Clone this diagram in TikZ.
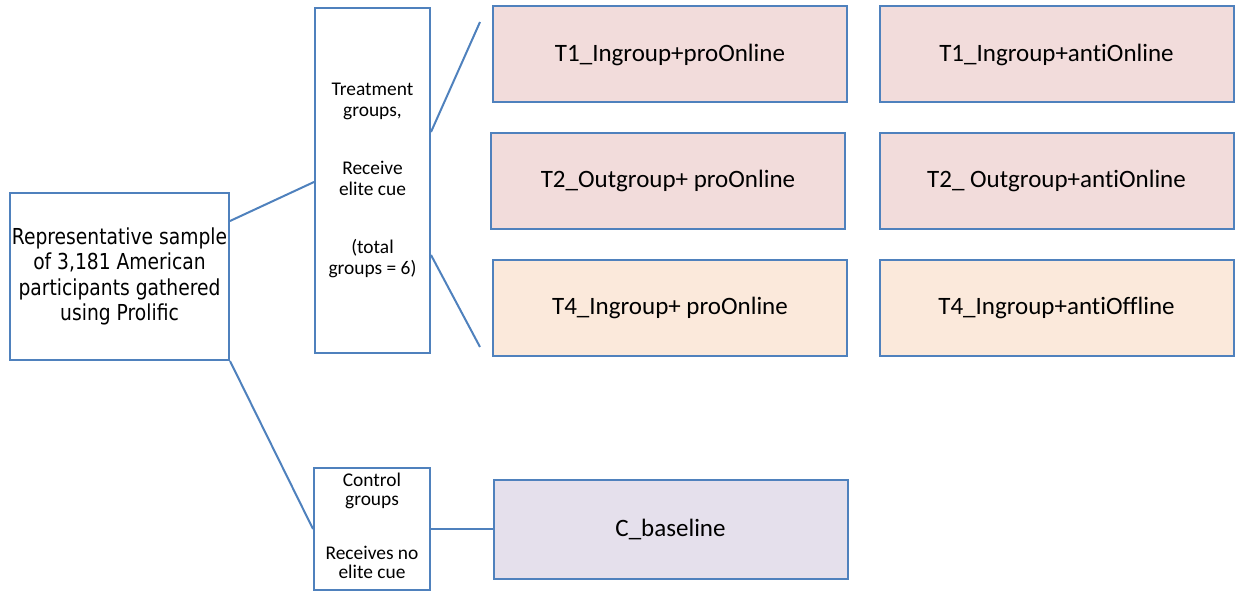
\documentclass[tikz,border=0pt]{standalone}
\usepackage{fontspec}
\setmainfont{Carlito}[Ligatures={NoCommon}]
\newfontfamily\repfont[FakeStretch=0.85]{DejaVu Sans}
\definecolor{edge}{HTML}{4F81BD}
\definecolor{pinkfill}{HTML}{F2DCDB}
\definecolor{orangefill}{HTML}{FBE9DB}
\definecolor{purplefill}{HTML}{E5E0EC}
\begin{document}
\begin{tikzpicture}[x=1pt,y=-1pt,
  box/.style={draw=edge,line width=2pt,inner sep=1pt,align=center},
  group/.style={box,minimum width=354pt,minimum height=96pt,font=\fontsize{25}{30}\selectfont},
  conn/.style={draw=edge,line width=2pt}]
\useasboundingbox (0,0) rectangle (1238,596);
\node[box,minimum width=219pt,minimum height=167pt,font=\repfont\fontsize{22}{25.3}\selectfont] (rep) at (119.5,276.5)
  {Representative sample\\of 3,181 American\\participants gathered\\using Prolific};
\node[box,minimum width=115pt,minimum height=345pt,font=\fontsize{19.4}{21.5}\selectfont] (treat) at (372.5,180.5)
  {Treatment\\groups,\\[36pt]Receive\\elite cue\\[36pt](total\\groups = 6)};
\node[box,minimum width=116pt,minimum height=122pt,font=\fontsize{19.4}{18.5}\selectfont] (ctrl) at (372,529)
  {Control\\groups\\[36pt]Receives no\\elite cue\rule[-6pt]{0pt}{0pt}};
\node[group,fill=pinkfill] (t1l) at (670,54.5) {T1\_Ingroup+proOnline};
\node[group,fill=pinkfill] (t1r) at (1056.5,54.5) {T1\_Ingroup+antiOnline};
\node[group,fill=pinkfill] (t2l) at (668,181) {T2\_Outgroup+ proOnline};
\node[group,fill=pinkfill] (t2r) at (1056.5,181) {T2\_ Outgroup+antiOnline};
\node[group,fill=orangefill] (t4l) at (670,307.5) {T4\_Ingroup+ proOnline};
\node[group,fill=orangefill] (t4r) at (1056.5,307.5) {T4\_Ingroup+antiOffline};
\node[group,fill=purplefill,minimum height=99pt] (cb) at (670.5,529) {C\_baseline};
\coordinate (up) at (480,22);
\coordinate (down) at (480,347);
\draw[conn] ([yshift=55.5pt]rep.east) -- ([yshift=-1.5pt]treat.west);
\draw[conn] (rep.south east) -- (ctrl.west);
\draw[conn] ([yshift=48.5pt]treat.east) -- (up);
\draw[conn] ([yshift=-74.5pt]treat.east) -- (down);
\draw[conn] (ctrl.east) -- (cb.west);
\end{tikzpicture}
\end{document}
